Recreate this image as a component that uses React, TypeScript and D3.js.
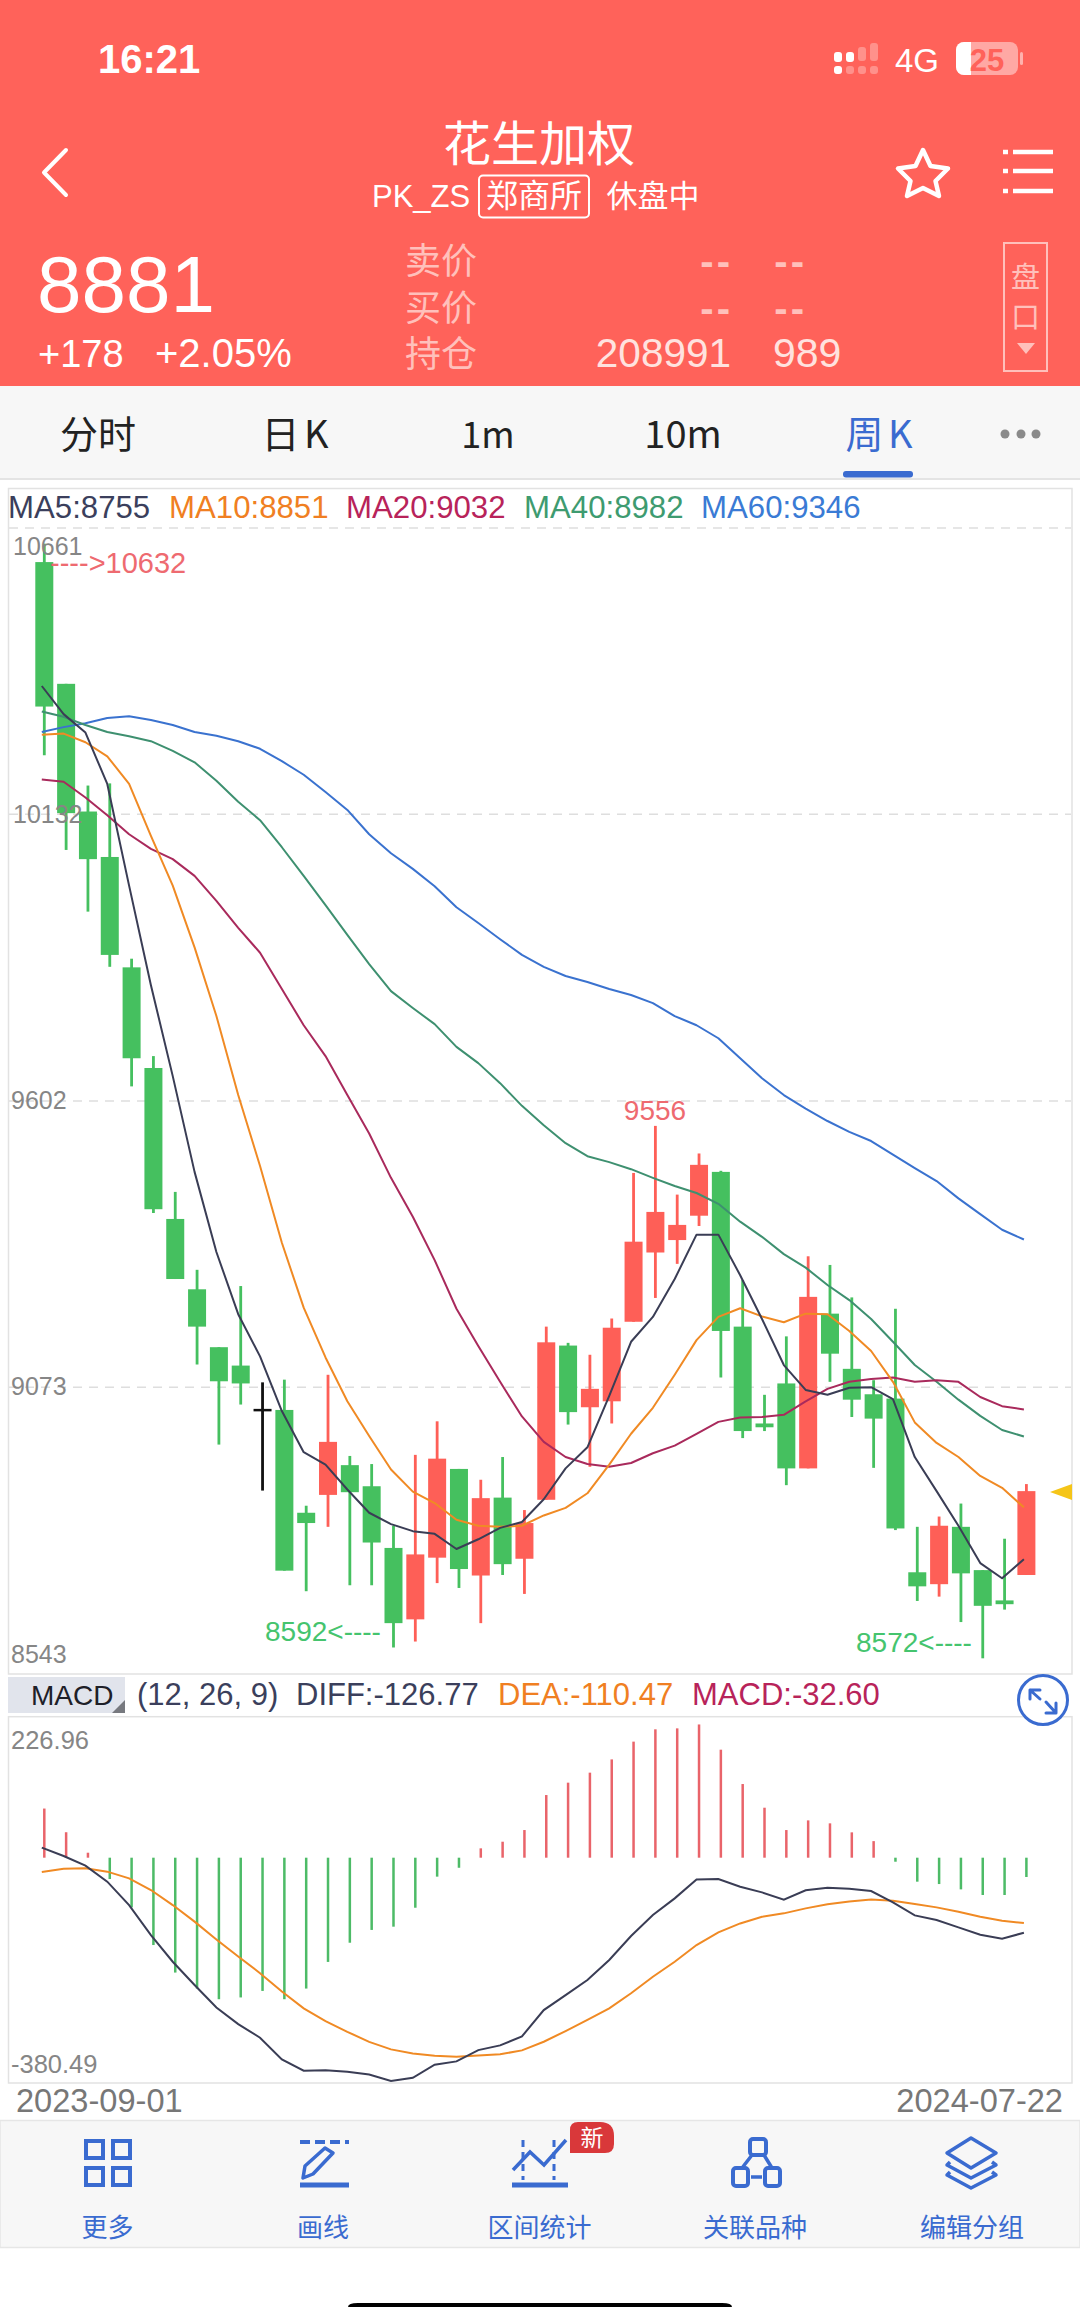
import React from "react";
import * as d3 from "d3";

// ---------- data ----------
const opens = [10598,10373,10137,10053,9849,9663,9384,9254,9147,9113,9033,9031,8841,8874,8929,8890,8776,8644,8758,8922,8725,8869,8756,8865,9150,9036,9047,9194,9322,9345,9390,9471,9185,9006,9080,8923,9209,9107,9060,9052,8731,8709,8815,8735,8679,8726];
const closes = [10331,10134,10049,9872,9681,9402,9273,9185,9084,9080,9033,8734,8822,8972,8879,8786,8637,8764,8941,8737,8868,8746,8822,9156,9027,9070,9183,9342,9397,9373,9484,9177,8992,8999,8923,9240,9135,9050,9015,8812,8705,8817,8729,8669,8672,8881];
const highs = [10632,10373,10185,10189,9865,9685,9434,9290,9147,9260,9082,9087,8854,9096,8946,8931,8817,8948,9010,8922,8902,8944,8846,9185,9155,9133,9200,9469,9556,9429,9505,9473,9271,9059,9167,9315,9299,9239,9086,9218,8815,8834,8858,8735,8793,8894];
const lows = [10241,10066,9952,9850,9629,9395,9273,9115,8967,9041,8882,8734,8696,8815,8707,8707,8592,8603,8711,8702,8637,8726,8691,8865,9004,8926,9006,9194,9238,9301,9371,9091,8979,8992,8892,8923,9083,9018,8924,8809,8678,8686,8639,8572,8662,8726];

const ma5 = [10369,10317,10283,10188,10000,9816,9648,9471,9323,9208,9130,9029,8953,8930,8884,8841,8820,8807,8802,8774,8792,8813,8824,8866,8923,8962,9057,9157,9203,9273,9355,9355,9280,9199,9114,9068,9059,9072,9073,9051,8944,8881,8817,8748,8720,8755];
const ma10 = [10279,10281,10265,10239,10188,10092,10000,9886,9759,9613,9482,9340,9220,9128,9047,8983,8921,8880,8859,8828,8817,8815,8817,8836,8850,8877,8930,8987,9035,9096,9160,9203,9219,9204,9193,9209,9208,9177,9140,9083,9008,8970,8944,8909,8887,8851];
const ma20 = [10196,10192,10163,10130,10095,10068,10049,10018,9972,9922,9876,9809,9742,9685,9613,9542,9460,9388,9308,9218,9149,9083,9019,8972,8944,8931,8926,8933,8951,8965,8987,9009,9017,9018,9022,9047,9070,9083,9088,9091,9083,9086,9083,9055,9038,9032];
const ma40 = [10322,10312,10297,10284,10276,10267,10249,10228,10194,10155,10121,10071,10018,9964,9909,9855,9805,9774,9744,9702,9672,9635,9593,9557,9524,9500,9489,9476,9460,9445,9432,9412,9379,9351,9319,9294,9262,9234,9199,9157,9114,9083,9050,9020,8994,8982];
const ma60 = [10284,10293,10300,10310,10313,10306,10297,10284,10277,10267,10253,10230,10205,10173,10140,10095,10060,10031,9999,9960,9931,9901,9872,9850,9833,9822,9809,9798,9783,9759,9742,9718,9681,9644,9613,9588,9565,9545,9528,9503,9478,9454,9422,9393,9364,9346];

const macdBars = [83,43,8.4,-36,-84,-147.5,-194,-221,-239,-236,-225,-239,-221,-176,-143.6,-122,-116.5,-84.5,-32,-17,15.8,27,46.7,105.8,126.7,143.6,166,196,216.8,218.4,225,182.4,124.4,84.4,46.7,63,58,42.8,28,-6.8,-40.5,-44.5,-53.5,-63,-63,-32.6];
const diff = [17,2.8,-13.5,-40.5,-80,-130.6,-175.7,-215,-253,-281,-304,-340.6,-359.8,-359,-361.4,-366,-377,-371.6,-349.6,-344,-324.9,-317,-301.8,-257.3,-232,-206.6,-172.8,-132.3,-96.8,-68.7,-37,-36,-49,-58.6,-71,-55,-50.7,-52.4,-56.3,-75.4,-97.4,-105.3,-117.7,-130,-136.8,-126.77];
const dea = [-24.2,-18.6,-18,-23.6,-35,-54.6,-80,-108,-138,-167,-195,-226,-254.5,-276,-294,-311,-323.7,-330.5,-334.4,-336,-333.9,-332,-325.4,-310.8,-292.8,-274,-254.5,-229,-201,-175.7,-147.5,-126,-111,-99.7,-94,-85.6,-78.8,-73.8,-70.4,-72.6,-78.3,-83.9,-91.2,-99.7,-106.4,-110.47];

const priceTicks = [10661, 10132, 9602, 9073, 8543];
const macdTicks = [226.96, -380.49];
const dateLabels = ["2023-09-01", "2024-07-22"];
const legendMain = [
  { t: "MA5:8755", c: "#3B3F5C", x: 8 },
  { t: "MA10:8851", c: "#F07F22", x: 169 },
  { t: "MA20:9032", c: "#B8235A", x: 346 },
  { t: "MA40:8982", c: "#3E9B70", x: 524 },
  { t: "MA60:9346", c: "#3A7BD5", x: 701 },
];
const legendMacd = [
  { t: "(12, 26, 9)", c: "#3B3F5C", x: 137 },
  { t: "DIFF:-126.77", c: "#3B3F5C", x: 296 },
  { t: "DEA:-110.47", c: "#F07F22", x: 498 },
  { t: "MACD:-32.60", c: "#B8235A", x: 692 },
];
const tabs = [
  { t: "分时", x: 98, c: "#222", s: 38 },
  { t: "日 K", x: 295, c: "#222", s: 38 },
  { t: "1m", x: 488, c: "#222", s: 36 },
  { t: "10m", x: 683, c: "#222", s: 38 },
  { t: "周 K", x: 879, c: "#3A6BD0", s: 38 },
];
const toolLabels = [
  { t: "更多", x: 107.5 },
  { t: "画线", x: 323 },
  { t: "区间统计", x: 539.5 },
  { t: "关联品种", x: 755 },
  { t: "编辑分组", x: 972 },
];

// ---------- colours ----------
const HEAD = "#FF625A";
const PALE = "#FFC0BB";
const RED = "#FE5F57";
const GREEN = "#45C05F";
const BLUE = "#3A6BD0";
const SANS = '"Liberation Sans","Noto Sans CJK SC",sans-serif';
const CJK = '"Noto Sans CJK SC","Liberation Sans",sans-serif';

export default function App() {
  const n = opens.length;
  const x = d3.scaleLinear().domain([0, n - 1]).range([44.3, 1026.4]);
  const y = d3.scaleLinear().domain([8543, 10661]).range([1674, 528]);
  const ym = d3.scaleLinear().domain([-380.49, 226.96]).range([2083, 1723.3]);
  const lineX = (_: number, i: number) => x(i) - 2.5;
  const priceLine = d3.line<number>().x(lineX).y((v) => y(v));
  const macdLine = d3.line<number>().x(lineX).y((v) => ym(v));
  const bodyW = 18;

  const maSeries = [
    { d: ma60, c: "#3A72CF" },
    { d: ma40, c: "#3E9070" },
    { d: ma20, c: "#A92A5C" },
    { d: ma10, c: "#F08A24" },
    { d: ma5, c: "#3A3D55" },
  ];

  return (
    <svg width={1080} height={2307} style={{ display: "block", position: "absolute", left: 0, top: 0, background: "#fff" }} fontFamily={SANS}>
      {/* header */}
      <rect x={0} y={0} width={1080} height={386} fill={HEAD} />
      <text x={98} y={73} fontSize={40} fontWeight={700} fill="#fff">16:21</text>
      {[838, 850].map((cx) => <rect key={cx} x={cx - 4} y={52} width={8} height={10} rx={3} fill="#fff" />)}
      <rect x={858} y={47} width={8} height={14} rx={3} fill="#fff" opacity={0.3} />
      <rect x={870} y={43} width={8} height={18} rx={3} fill="#fff" opacity={0.3} />
      {[838, 850, 862, 874].map((cx, i) => <rect key={cx} x={cx - 4} y={66} width={8} height={8} rx={3} fill="#fff" opacity={i === 0 ? 1 : 0.3} />)}
      <text x={895} y={72} fontSize={33} fill="#fff">4G</text>
      <rect x={956} y={42} width={62} height={33} rx={8} fill="#fff" opacity={0.45} />
      <path d="M964,42 H971 V75 H964 A8,8 0 0 1 956,67 V50 A8,8 0 0 1 964,42 Z" fill="#fff" />
      <rect x={1020} y={52} width={3} height={13} rx={1.5} fill="#fff" opacity={0.5} />
      <text x={987} y={71} fontSize={31} fontWeight={700} fill={HEAD} textAnchor="middle">25</text>

      <text x={539} y={161} fontSize={48} fill="#fff" textAnchor="middle" fontFamily={CJK}>花生加权</text>
      <text x={372} y={207} fontSize={31} fill="#fff">PK_ZS</text>
      <rect x={479} y={175.5} width={110} height={42} rx={4} fill="none" stroke="#fff" strokeWidth={2} />
      <text x={534} y={207} fontSize={32} fill="#fff" textAnchor="middle" fontFamily={CJK}>郑商所</text>
      <text x={653} y={207} fontSize={31} fill="#fff" textAnchor="middle" fontFamily={CJK}>休盘中</text>
      <path d="M66,150 L44,172.5 L66,195" fill="none" stroke="#fff" strokeWidth={4} strokeLinecap="round" strokeLinejoin="round" />
      <path d="M923,150 L930.5,166 L948,168.5 L935.5,181 L939,196 L923,188 L907,196 L910.5,181 L898,168.5 L915.5,166 Z" fill="none" stroke="#fff" strokeWidth={4.5} strokeLinejoin="round" />
      {[152, 171, 191].map((ly) => (
        <g key={ly} stroke="#fff" strokeWidth={4.5}>
          <line x1={1003} x2={1008} y1={ly} y2={ly} />
          <line x1={1013} x2={1053} y1={ly} y2={ly} />
        </g>
      ))}

      <text x={37} y={312} fontSize={80} fill="#fff">8881</text>
      <text x={38} y={367} fontSize={38} fill="#fff">+178</text>
      <text x={155} y={367} fontSize={40} fill="#fff">+2.05%</text>
      {[["卖价", 274], ["买价", 321], ["持仓", 367]].map(([t, ty]) => (
        <text key={t as string} x={405} y={ty as number} fontSize={36} fill={PALE} fontFamily={CJK}>{t}</text>
      ))}
      {[275, 322].map((ty) => (
        <g key={ty} fontSize={40} fill={PALE} fontWeight={700} letterSpacing={3} textAnchor="end">
          <text x={733} y={ty}>--</text>
          <text x={807} y={ty}>--</text>
        </g>
      ))}
      <text x={731} y={367} fontSize={40.5} fill="#FFE2DF" textAnchor="end">208991</text>
      <text x={773} y={367} fontSize={41} fill="#FFE2DF">989</text>
      <rect x={1004} y={243} width={43} height={128} fill="none" stroke={PALE} strokeWidth={2} />
      <text x={1025.5} y={288} fontSize={29} fill={PALE} textAnchor="middle" fontFamily={CJK}>盘</text>
      <text x={1025.5} y={328} fontSize={29} fill={PALE} textAnchor="middle" fontFamily={CJK}>口</text>
      <path d="M1017,343 H1035 L1026,354 Z" fill={PALE} />

      {/* tab bar */}
      <rect x={0} y={386} width={1080} height={92} fill="#F7F7F7" />
      <line x1={0} x2={1080} y1={479} y2={479} stroke="#E4E4E4" strokeWidth={2} />
      {tabs.map((t) => (
        <text key={t.t} x={t.x} y={448} fontSize={t.s} fill={t.c} textAnchor="middle" fontFamily={CJK} wordSpacing={-4}>{t.t}</text>
      ))}
      <rect x={843} y={471} width={70} height={6.5} rx={3} fill={BLUE} />
      {[1005, 1021, 1036].map((cx) => <circle key={cx} cx={cx} cy={434} r={4.5} fill="#8A8A8A" />)}

      {/* main panel */}
      <rect x={8.5} y={488.5} width={1063.5} height={1185.5} fill="none" stroke="#E2E2E2" strokeWidth={1.5} />
      {legendMain.map((l) => <text key={l.t} x={l.x} y={518} fontSize={31.2} fill={l.c}>{l.t}</text>)}
      {priceTicks.slice(0, 4).map((v) => (
        <line key={v} x1={9} x2={1071} y1={y(v)} y2={y(v)} stroke="#DEDEDE" strokeWidth={1.5} strokeDasharray="9 7" />
      ))}

      {/* candles */}
      {opens.map((o, i) => {
        const c = closes[i];
        const col = c > o ? RED : c < o ? GREEN : "#111";
        const top = y(Math.max(o, c));
        const h = Math.max(y(Math.min(o, c)) - top, 2.5);
        return (
          <g key={i} fill={col}>
            <rect x={x(i) - 1.4} y={y(highs[i])} width={2.8} height={y(lows[i]) - y(highs[i])} />
            <rect x={x(i) - bodyW / 2} y={top} width={bodyW} height={h} />
          </g>
        );
      })}

      {/* moving averages */}
      {maSeries.map((s) => (
        <path key={s.c} d={priceLine(s.d) as string} fill="none" stroke={s.c} strokeWidth={2} strokeLinejoin="round" />
      ))}

      {/* price labels */}
      <text x={13} y={554.5} fontSize={25} fill="#868686">{priceTicks[0]}</text>
      <text x={13} y={822.5} fontSize={25} fill="#868686">{priceTicks[1]}</text>
      <text x={11} y={1109} fontSize={25} fill="#868686">{priceTicks[2]}</text>
      <text x={11} y={1395} fontSize={25} fill="#868686">{priceTicks[3]}</text>
      <text x={11} y={1663} fontSize={25} fill="#868686">{priceTicks[4]}</text>
      <text x={50} y={573} fontSize={29} fill="#EE6A70">----&gt;10632</text>
      <text x={655} y={1120} fontSize={28} fill="#EE6A70" textAnchor="middle">9556</text>
      <text x={265} y={1641} fontSize={28} fill="#45C46E">8592&lt;----</text>
      <text x={856} y={1652} fontSize={28} fill="#45C46E">8572&lt;----</text>
      <path d="M1050,1492 L1072,1484 V1500 Z" fill="#F5C518" />

      {/* MACD header */}
      <rect x={8} y={1677} width={117} height={36} fill="#E1E4EC" />
      <path d="M125,1700 V1713 H112 Z" fill="#77797F" />
      <text x={31} y={1705} fontSize={28} fill="#1E2028">MACD</text>
      {legendMacd.map((l) => <text key={l.t} x={l.x} y={1705} fontSize={31} fill={l.c}>{l.t}</text>)}

      {/* MACD panel */}
      <rect x={8.5} y={1716.7} width={1063.5} height={366.3} fill="none" stroke="#E2E2E2" strokeWidth={1.5} />
      {macdBars.map((v, i) => (
        <rect key={i} x={x(i) - 1.25} y={Math.min(ym(v), ym(0))} width={2.5} height={Math.abs(ym(v) - ym(0))} fill={v > 0 ? "#E9646A" : "#4DBB67"} />
      ))}
      <path d={macdLine(dea) as string} fill="none" stroke="#F08A24" strokeWidth={2} />
      <path d={macdLine(diff) as string} fill="none" stroke="#3A3D55" strokeWidth={2} />
      <text x={11} y={1749} fontSize={25.5} fill="#868686">{macdTicks[0]}</text>
      <text x={11} y={2073} fontSize={25.5} fill="#868686">{macdTicks[1]}</text>
      <circle cx={1043} cy={1700} r={24.5} fill="#fff" stroke={BLUE} strokeWidth={3} />
      <g fill="none" stroke={BLUE} strokeWidth={3} strokeLinecap="round" strokeLinejoin="round">
        <path d="M1030,1690 L1040,1699 M1030,1699 V1690 H1040" />
        <path d="M1046,1702 L1056,1713 M1056,1703 V1713 H1046" />
      </g>

      {/* dates */}
      <text x={16} y={2112} fontSize={32.6} fill="#777">{dateLabels[0]}</text>
      <text x={1063} y={2112} fontSize={32.6} fill="#777" textAnchor="end">{dateLabels[1]}</text>

      {/* toolbar */}
      <rect x={0} y={2120.5} width={1080} height={127} fill="#F7F7F7" stroke="#E6E6E6" strokeWidth={1.5} />
      <g fill="none" stroke={BLUE} strokeWidth={4}>
        {[86, 113].map((rx) => [2141, 2168].map((ry) => <rect key={`${rx}-${ry}`} x={rx} y={ry} width={17} height={17} />))}
        <line x1={300} x2={349} y1={2142} y2={2142} strokeDasharray="10 5" />
        <path d="M303,2178 L305,2166 L325,2148 L333,2153 L313,2174 Z" strokeLinejoin="round" strokeWidth={3.5} />
        <line x1={300} x2={349} y1={2185} y2={2185} strokeWidth={5} />
        <line x1={512} x2={568} y1={2185} y2={2185} strokeWidth={5} />
        <line x1={523} x2={523} y1={2140} y2={2180} strokeDasharray="7 5" strokeWidth={3} />
        <line x1={554} x2={554} y1={2140} y2={2180} strokeDasharray="7 5" strokeWidth={3} />
        <polyline points="513,2170 530,2152 544,2165 566,2140" strokeWidth={3.5} />
        <rect x={750} y={2139} width={16} height={16} rx={3} />
        <rect x={733} y={2168} width={15} height={18} rx={3} />
        <rect x={765} y={2168} width={15} height={18} rx={3} />
        <path d="M752,2155 L742,2168 M764,2155 L772,2168 M751,2177 H762" strokeWidth={3.5} />
        <path d="M971,2138 L996,2153 L971,2168 L947,2153 Z" strokeWidth={3.5} strokeLinejoin="round" />
        <path d="M950,2162 L947,2165 L971,2178 L996,2165 L992,2162 M950,2172 L947,2175 L971,2188 L996,2175 L992,2172" strokeWidth={3.5} strokeLinejoin="round" />
      </g>
      <path d="M578,2122 H600 Q614,2122 614,2136 V2144 Q614,2153 605,2153 H570 V2130 Q570,2122 578,2122 Z" fill="#D9383A" />
      <text x={592} y={2146} fontSize={23} fill="#fff" textAnchor="middle" fontFamily={CJK}>新</text>
      {toolLabels.map((l) => (
        <text key={l.t} x={l.x} y={2237} fontSize={26} fill={BLUE} textAnchor="middle" fontFamily={CJK}>{l.t}</text>
      ))}
      <path d="M358,2303 H722 Q732,2303 732,2307 H348 Q348,2303 358,2303 Z" fill="#000" />
    </svg>
  );
}
